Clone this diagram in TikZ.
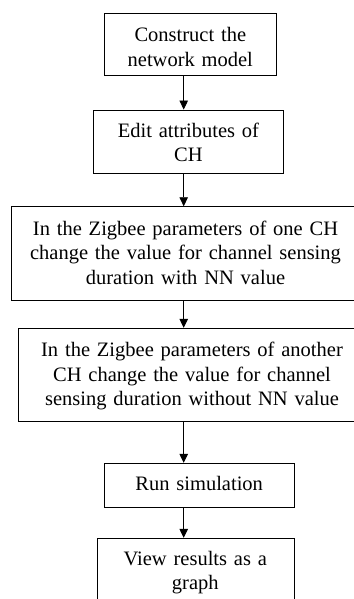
\documentclass[tikz,border=0pt]{standalone}
\usepackage{fontspec}
\setmainfont{Liberation Serif}
\usetikzlibrary{arrows.meta}
\begin{document}
\begin{tikzpicture}[x=1pt,y=-1pt,
  box/.style={draw=black, line width=0.9pt, inner sep=0pt},
  txt/.style={inner sep=0pt, text width=345pt, align=center, anchor=base,
    font=\fontsize{20.5pt}{24.5pt}\selectfont},
  arr/.style={draw=black, line width=0.9pt, -{Triangle[length=9pt,width=8.5pt]}}]
\useasboundingbox (0,0) rectangle (353,599);
\fill[white] (0,0) rectangle (353,599);
% boxes
\node[box, minimum width=172.4pt, minimum height=62pt] (b1) at (190.5,44.7) {};
\node[box, minimum width=189.6pt, minimum height=63.3pt] (b2) at (188.5,141.65) {};
\node[box, minimum width=347.6pt, minimum height=93.3pt] (b3) at (185.5,253.35) {};
\node[box, minimum width=347.4pt, minimum height=93.4pt] (b4) at (192,375) {};
\node[box, minimum width=190pt, minimum height=44.4pt] (b5) at (199.3,485.5) {};
\node[box, minimum width=196.6pt, minimum height=62.7pt] (b6) at (196,569.65) {};
% texts
\node[txt] (t1) at (190.3,41.7) {Construct the\\network model};
\node[txt] (t2) at (188.4,137.3) {Edit attributes of\\CH};
\node[txt] (t3) at (185.5,235) {In the Zigbee parameters of one CH\\change the value for channel sensing\\duration with NN value};
\node[txt] (t4) at (192,356.7) {In the Zigbee parameters of another\\CH change the value for channel\\sensing duration without NN value};
\node[txt] (t5) at (199.2,490) {Run simulation};
\node[txt] (t6) at (195.3,565) {View results as a\\graph};
% connectors
\coordinate (ax) at (183.7,0);
\draw[arr] (b1.south -| ax) -- (b2.north -| ax);
\draw[arr] (b2.south -| ax) -- (b3.north -| ax);
\draw[arr] (b3.south -| ax) -- (b4.north -| ax);
\draw[arr] (b4.south -| ax) -- (b5.north -| ax);
\draw[arr] (b5.south -| ax) -- (b6.north -| ax);
\end{tikzpicture}
\end{document}
